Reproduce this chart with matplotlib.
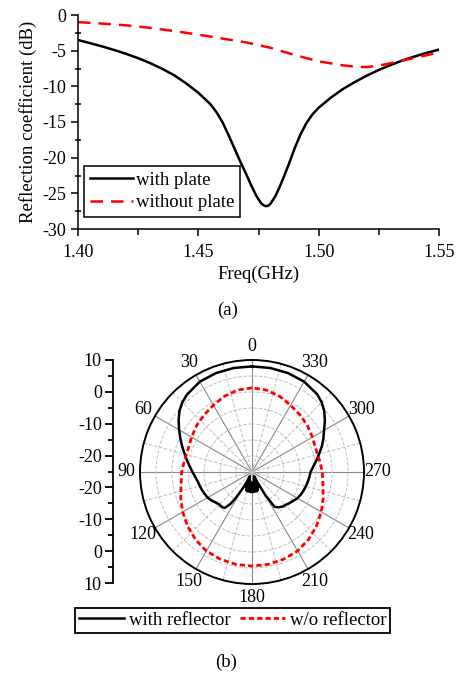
import numpy as np
import matplotlib
matplotlib.use("Agg")
import matplotlib.pyplot as plt

plt.rcParams['font.family'] = ['Liberation Serif', 'DejaVu Serif']
plt.rcParams['axes.unicode_minus'] = False
plt.rcParams['font.size'] = 13

# (a) reflection coefficient vs frequency
freq_with = [1.400, 1.405, 1.410, 1.415, 1.420, 1.425, 1.430, 1.435, 1.440, 1.445,
             1.450, 1.455, 1.4575, 1.460, 1.4625, 1.465, 1.4675, 1.470, 1.472, 1.474,
             1.476, 1.477, 1.478, 1.479, 1.480, 1.482, 1.4838, 1.4855, 1.4875, 1.490,
             1.4925, 1.495, 1.4975, 1.500, 1.505, 1.510, 1.515, 1.520, 1.525, 1.530,
             1.535, 1.540, 1.545, 1.550]
s11_with = [-3.5, -3.95, -4.4, -4.9, -5.45, -6.05, -6.75, -7.55, -8.45, -9.6,
            -10.9, -12.5, -13.6, -15.0, -16.8, -18.7, -20.6, -22.4, -23.9, -25.3,
            -26.35, -26.65, -26.8, -26.75, -26.45, -25.4, -24.1, -22.7, -21.0, -18.7,
            -16.7, -15.1, -13.9, -13.0, -11.6, -10.4, -9.4, -8.5, -7.7, -7.0,
            -6.35, -5.8, -5.3, -4.85]
freq_without = [1.40, 1.41, 1.42, 1.43, 1.44, 1.45, 1.46, 1.47, 1.48, 1.49,
                1.50, 1.51, 1.515, 1.52, 1.525, 1.53, 1.54, 1.55]
s11_without = [-1.0, -1.2, -1.45, -1.8, -2.25, -2.75, -3.3, -3.85, -4.6, -5.6,
               -6.5, -7.05, -7.25, -7.3, -7.1, -6.75, -6.0, -5.25]

# (b) radiation pattern (dB), angle in degrees
ang_with = [0, 10, 20, 30, 40, 45, 50, 55, 60, 65, 70, 75, 80, 85, 90, 95, 100, 105,
            110, 115, 120, 125, 130, 135, 140, 143, 146, 148, 150,
            152.5, 155, 157.5, 160, 162.5, 165, 167.5, 170, 172.5, 175, 177.5, 180,
            182.5, 185, 187.5, 190, 192.5, 195, 197.5, 200, 202.5, 205, 207.5,
            210, 213, 217, 222, 225, 230, 235, 240, 245, 250, 255, 260, 265, 270,
            275, 280, 285, 290, 295, 300, 305, 310, 315, 320, 330, 340, 350, 360]
pat_with = [8.0, 8.0, 7.9, 7.6, 6.6, 5.8, 4.6, 3.0, 1.3, -0.3, -1.8, -3.2, -4.4, -5.5,
            -6.4, -7.2, -7.8, -8.1, -8.4, -8.7, -9.0, -9.5, -10.2, -10.6, -10.6, -11.0,
            -13.0, -15.5, -18.5,
            -21.5, -23.5, -20.0, -23.0, -19.0, -22.5, -18.8, -22.0, -18.8, -21.5, -18.7,
            -21.5, -18.7, -21.5, -18.8, -22.0, -18.8, -22.5, -19.0, -23.0, -20.0, -23.5,
            -21.5, -16.5, -12.0, -11.2, -10.5, -10.4, -9.8, -9.3, -8.6, -8.2, -7.9, -7.6,
            -7.3, -7.0, -6.7, -5.8, -4.6, -3.3, -1.8, -0.4, 1.0, 2.8, 4.5, 5.8, 6.7, 7.6,
            7.9, 8.0, 8.0]
ang_without = list(range(0, 361, 10))
pat_without = [1.3, 1.0, 0.2, -0.9, -1.7, -2.4, -3.2, -3.8, -3.6, -3.0, -2.5, -1.3,
               0.0, 1.3, 2.5, 3.5, 4.0, 4.3, 4.4, 4.3, 4.0, 3.5, 2.5, 1.3, 0.0, -1.3,
               -2.5, -3.0, -3.6, -3.8, -3.2, -2.4, -1.7, -0.9, 0.2, 1.0, 1.3]

theta_ticks = [0, 30, 60, 90, 120, 150, 180, 210, 240, 270, 300, 330]
theta_labels = ['0', '30', '60', '90', '120', '150', '180', '210', '240', '270', '300', '330']
r_ticks = [-35, -25, -15, -5, 5, 15, 25, 35]
r_labels = ['10', '0', '-10', '-20', '-20', '-10', '0', '10']

W, H = 461, 674
fig = plt.figure(figsize=(W / 100, H / 100), dpi=100)

# ---- top chart ----
ax = fig.add_axes([78 / W, 1 - 229 / H, 361 / W, 214 / H])
ax.plot(freq_with, s11_with, color='black', lw=1.8, label='with plate')
ax.plot(freq_without, s11_without, color='red', lw=1.8, dashes=(5, 3.2), label='without plate')
ax.set_xlim(1.40, 1.55)
ax.set_ylim(-30, 0)
ax.set_xticks([1.40, 1.45, 1.50, 1.55])
ax.set_xticklabels(['1.40', '1.45', '1.50', '1.55'])
ax.set_xticks([1.425, 1.475, 1.525], minor=True)
ax.set_yticks([0, -5, -10, -15, -20, -25, -30])
ax.set_yticks(np.arange(-27.5, 0, 5), minor=True)
ax.spines['top'].set_visible(False)
ax.spines['right'].set_visible(False)
for s in ('left', 'bottom'):
    ax.spines[s].set_linewidth(1.1)
ax.tick_params(which='major', direction='out', length=5, width=1.1, labelsize=13)
ax.tick_params(axis='x', which='major', pad=6)
ax.tick_params(axis='x', which='minor', direction='out', length=4, width=1.1)
ax.tick_params(axis='y', which='minor', direction='inout', length=4, width=1.1)
ax.set_xlabel('Freq(GHz)', fontsize=13.5, labelpad=3)
ax.set_ylabel('Reflection coefficient (dB)', fontsize=13.5, labelpad=4)
leg = ax.legend(loc='lower left', bbox_to_anchor=(0.017, 0.056), borderaxespad=0,
                fontsize=13.5, handlelength=2.3, handletextpad=0.15, labelspacing=0.3,
                borderpad=0.3, fancybox=False, framealpha=1, edgecolor='black')
leg.get_frame().set_linewidth(1.1)
fig.text(228 / W, 1 - 310 / H, '(a)', ha='center', va='center', fontsize=13.5)

# ---- polar chart ----
pax = fig.add_axes([(252 - 112) / W, (H - 472 - 112) / H, 224 / W, 224 / H], projection='polar')
pax.set_theta_zero_location('N')
pax.set_theta_direction(1)
l1, = pax.plot(np.radians(ang_with), pat_with, color='black', lw=1.8)
l2, = pax.plot(np.radians(ang_without), pat_without, color='red', lw=2.0, dashes=(1.9, 1.1))
pax.set_ylim(-25, 10)
pax.set_yticks([-20, -15, -10, -5, 0, 5])
pax.set_yticklabels([])
pax.set_thetagrids(theta_ticks, theta_labels)
pax.set_xticks(np.radians(np.arange(15, 360, 30)), minor=True)
pax.grid(axis='x', which='major', color='#888888', ls='-', lw=0.8)
pax.grid(axis='x', which='minor', color='#c0c0c0', ls='--', lw=0.7)
pax.grid(axis='y', which='major', color='#c0c0c0', ls='--', lw=0.7)
pax.tick_params(axis='x', which='major', direction='in', length=9, width=1.3, color='black',
                labelsize=13, pad=3)
pax.tick_params(axis='x', which='minor', direction='in', length=5.5, width=1.3, color='black')
pax.spines['polar'].set_linewidth(1.4)

# left radial scale
rax = fig.add_axes([113 / W, (H - 583) / H, 0.001, 223 / H])
rax.set_ylim(-35, 35)
rax.set_yticks(r_ticks)
rax.set_yticklabels(r_labels)
rax.set_yticks([-30, -20, -10, 0, 10, 20, 30], minor=True)
rax.set_xticks([])
for s in ('top', 'right', 'bottom'):
    rax.spines[s].set_visible(False)
rax.spines['left'].set_linewidth(1.3)
rax.tick_params(axis='y', which='major', direction='out', length=6, width=1.3, labelsize=13, pad=2)
rax.tick_params(axis='y', which='minor', direction='out', length=3.5, width=1.3)

leg2 = fig.legend([l1, l2], ['with reflector', 'w/o reflector'], loc='center',
                  bbox_to_anchor=(232.6 / W, 1 - 620.3 / H), ncol=2, fontsize=13.5,
                  handlelength=2.4, handletextpad=0.25, columnspacing=0.5, borderpad=0.2,
                  fancybox=False, framealpha=1, edgecolor='black')
leg2.get_frame().set_linewidth(1.3)
fig.text(226 / W, 1 - 662 / H, '(b)', ha='center', va='center', fontsize=13.5)

fig.savefig('out.png', dpi=100)
